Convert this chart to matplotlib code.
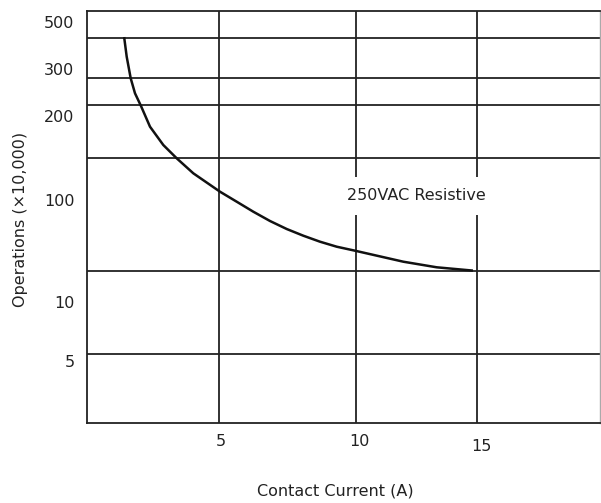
import matplotlib
matplotlib.use('Agg')
import matplotlib.pyplot as plt
from matplotlib.transforms import ScaledTranslation

plt.rcParams['font.family'] = ['DejaVu Sans']

# This datasheet chart has no true scale on either axis: tick labels and
# gridlines sit at their own positions, so both axes are kept in plain
# position units (x: 0..513 from the left, y: 0..412 from the bottom).
y_labels = ['500', '300', '200', '100', '10', '5']
y_label_pos = [401, 354, 307, 223, 121, 62]
y_grid = [385, 345, 318, 265, 152, 69]

x_labels = ['5', '10', '15']
x_label_pos = [134, 272, 394]
x_grid = [132, 269, 390]

# 250VAC resistive curve
curve_x = [37.3, 39.7, 43.7, 48, 54, 63, 76.3, 89.7, 106.3, 133, 149.7, 166.3,
           183, 199.7, 216.3, 233, 249.7, 268, 316.3, 349.7, 384.7]
curve_y = [384.7, 366.3, 344.7, 329.7, 317, 296.3, 278, 264.7, 249.7, 231.3,
           221.3, 211.3, 202, 194, 187.3, 181.3, 176.3, 172.3, 161.3, 155.7, 152.5]

fig = plt.figure(figsize=(6.01, 5.03), dpi=100)
ax = fig.add_axes([87/601, 80/503, 513/601, 412/503])

for g in y_grid:
    ax.axhline(g, color='#222222', lw=1.3, zorder=1)
for g in x_grid:
    ax.axvline(g, color='#222222', lw=1.3, zorder=1)

ax.plot(curve_x, curve_y, color='#111111', lw=1.8, zorder=3)

ax.text(329.5, 227, '250VAC Resistive', fontsize=11.5, color='#222222',
        ha='center', va='center', zorder=2,
        bbox=dict(facecolor='white', edgecolor='none', pad=8))

ax.set_xlim(0, 513)
ax.set_ylim(0, 412)

ax.set_yticks(y_label_pos)
ax.set_yticklabels(y_labels)
ax.set_xticks(x_label_pos)
ax.set_xticklabels(x_labels)
ax.tick_params(length=0, labelsize=11.5, labelcolor='#222222')
ax.tick_params(axis='y', pad=9)
ax.tick_params(axis='x', pad=8)
# the "15" label sits a little lower than the others
lbl = ax.get_xticklabels()[2]
lbl.set_transform(lbl.get_transform() + ScaledTranslation(0, -5/100, fig.dpi_scale_trans))

for side in ['left', 'bottom', 'top']:
    ax.spines[side].set_color('#222222')
    ax.spines[side].set_linewidth(1.3)
ax.spines['right'].set_color('#aaaaaa')
ax.spines['right'].set_linewidth(1.0)

ax.set_xlabel('Contact Current (A)', fontsize=11.5, color='#222222')
ax.set_ylabel('Operations (×10,000)', fontsize=11.5, color='#222222')
ax.xaxis.set_label_coords(0.485, -0.148)
ax.yaxis.set_label_coords(-0.115, 0.493)

plt.savefig('out.png', dpi=100)
